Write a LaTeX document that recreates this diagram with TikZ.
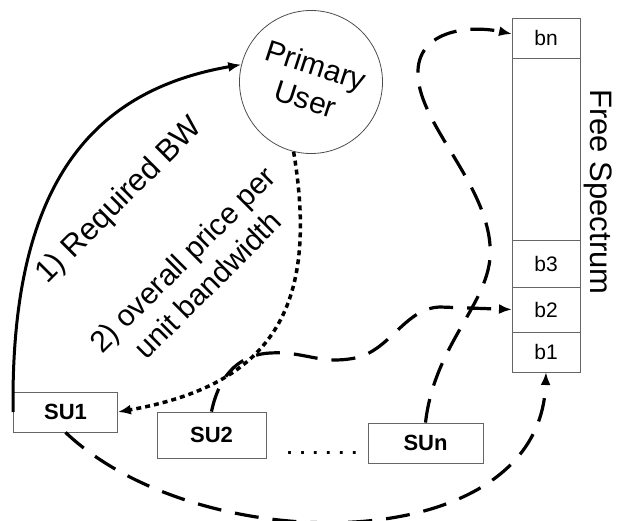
\documentclass[tikz,border=0pt]{standalone}
\usepackage{fontspec}
\setmainfont{Liberation Sans}
\usetikzlibrary{arrows.meta,shapes.geometric,positioning,calc}

\begin{document}
\begin{tikzpicture}[x=1pt, y=-1pt, >={Latex[length=13pt,width=10pt]},
su/.style = {draw=black!60, rectangle, line width=0.8pt, minimum height=40pt, minimum width=104pt, align=center, font=\fontsize{22}{24}\selectfont\bfseries},
cell/.style = {draw=black!60, rectangle, line width=0.8pt, minimum width=68pt, outer sep=0pt, inner sep=0pt, font=\fontsize{21}{23}\selectfont},
puser/.style = {draw=black!70, circle, line width=0.8pt, minimum size=143pt, align=center, font=\fontsize{30}{35}\selectfont},
lbl/.style = {align=center, font=\fontsize{31}{36}\selectfont},
solidline/.style = {line width=3pt, ->},
dotline/.style = {line width=3.5pt, dash pattern=on 5pt off 4pt, ->},
dashline/.style = {line width=3.2pt, dash pattern=on 24pt off 14pt, ->},
                    ]
    \useasboundingbox (0,0) rectangle (620,520);
    % spectrum bar
    \node [cell, minimum height=40pt] at (546,38)         (bn){bn};
    \node [cell, minimum height=182pt, below=0pt of bn]   (gap){};
    \node [cell, minimum height=47pt, below=0pt of gap]   (b3){b3};
    \node [cell, minimum height=45pt, below=0pt of b3]    (b2){b2};
    \node [cell, minimum height=40pt, below=0pt of b2]    (b1){b1};
    \node [lbl, rotate=-90] at (598,192)                  (fspec){Free Spectrum};
    % users
    \node [puser, rotate=-18] at (311,82)                 (pu){Primary\\User};
    \node [su] at (65.5,412)                              (su1){SU1};
    \node [su, minimum width=109pt, minimum height=46pt] at (211.5,435) (su2){SU2};
    \node [su, minimum width=115pt] at (425.5,443)        (sun){SUn};
    \node [font=\fontsize{20}{22}\selectfont\bfseries] at (322,453) (dots){. . . . . .};
    % labels
    \node [lbl, rotate=45] at (120,201)                   (reqbw){1) Required BW};
    \node [lbl, rotate=45, font=\fontsize{30}{36}\selectfont] at (195,272) (price){2) overall price per\\unit bandwidth};
    % connectors
    \draw[solidline] (su1.west) .. controls (10,180) and (95,90) .. (pu.184);
    \draw[dotline] (pu.274) .. controls (320,310) and (270,385) .. (su1.east);
    \draw[dashline] (su1.south) .. controls (200,560) and (540,560) .. (b1.south);
    \draw[dashline] (su2.north) .. controls (218,380) and (235,355) .. (270,353)
                    .. controls (305,351) and (320,365) .. (355,358)
                    .. controls (390,351) and (405,308) .. (440,307) -- (b2.west);
    \draw[dashline] (sun.north) .. controls (435,340) and (495,300) .. (490,245)
                    .. controls (485,180) and (415,120) .. (418,70)
                    .. controls (420,30) and (470,25) .. ($(bn.west)+(0,-4)$);
\end{tikzpicture}
\end{document}
